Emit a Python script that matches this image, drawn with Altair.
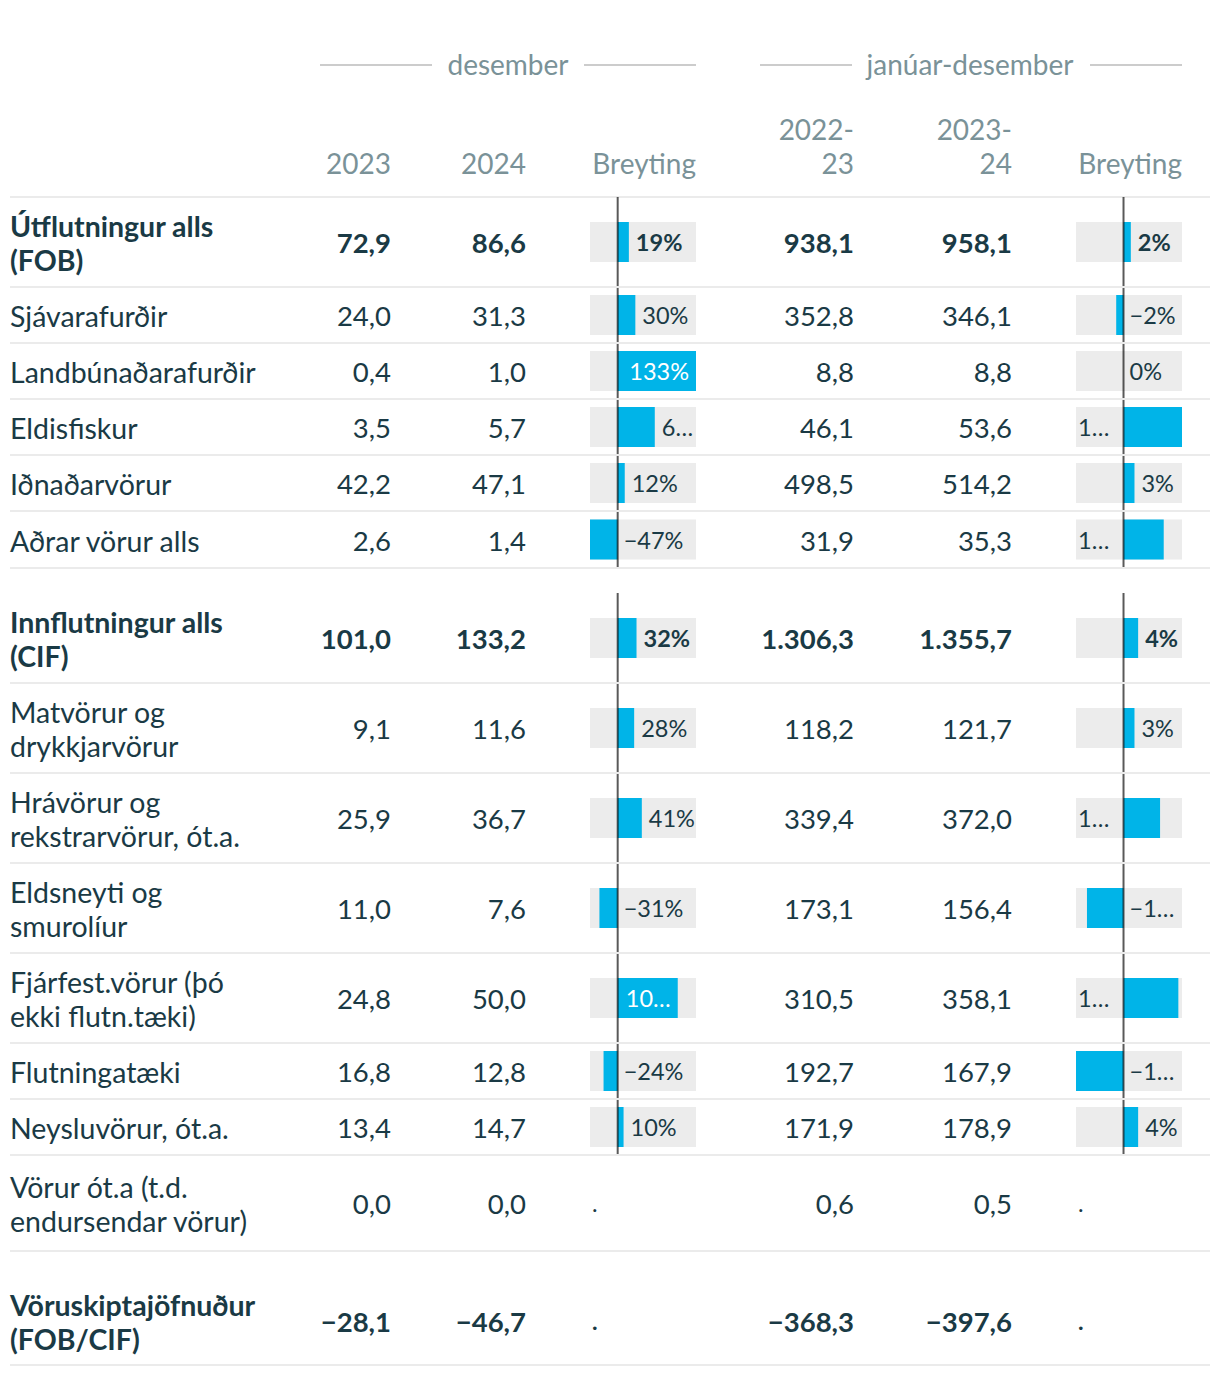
import altair as alt
import pandas as pd

# ---------------- data ----------------
labels = [
    "Útflutningur alls\n(FOB)", "Sjávarafurðir", "Landbúnaðarafurðir", "Eldisfiskur",
    "Iðnaðarvörur", "Aðrar vörur alls", "Innflutningur alls\n(CIF)",
    "Matvörur og\ndrykkjarvörur", "Hrávörur og\nrekstrarvörur, ót.a.",
    "Eldsneyti og\nsmurolíur", "Fjárfest.vörur (þó\nekki flutn.tæki)",
    "Flutningatæki", "Neysluvörur, ót.a.", "Vörur ót.a (t.d.\nendursendar vörur)",
    "Vöruskiptajöfnuður\n(FOB/CIF)",
]
bold = [True, False, False, False, False, False, True, False, False, False,
        False, False, False, False, True]
dec_2023 = [72.9, 24.0, 0.4, 3.5, 42.2, 2.6, 101.0, 9.1, 25.9, 11.0, 24.8, 16.8, 13.4, 0.0, -28.1]
dec_2024 = [86.6, 31.3, 1.0, 5.7, 47.1, 1.4, 133.2, 11.6, 36.7, 7.6, 50.0, 12.8, 14.7, 0.0, -46.7]
yr_2223 = [938.1, 352.8, 8.8, 46.1, 498.5, 31.9, 1306.3, 118.2, 339.4, 173.1, 310.5, 192.7, 171.9, 0.6, -368.3]
yr_2324 = [958.1, 346.1, 8.8, 53.6, 514.2, 35.3, 1355.7, 121.7, 372.0, 156.4, 358.1, 167.9, 178.9, 0.5, -397.6]
chg_dec = [19, 30, 133, 63, 12, -47, 32, 28, 41, -31, 102, -24, 10, None, None]
chg_dec_text = ["19%", "30%", "133%", "6…", "12%", "−47%", "32%", "28%", "41%",
                "−31%", "10…", "−24%", "10%", ".", "."]
chg_dec_place = ["after", "after", "inside", "after", "after", "zero", "after", "after",
                 "after", "zero", "inside", "zero", "after", "start", "start"]
chg_yr = [2, -2, 0, 16, 3, 11, 4, 3, 10, -10, 15, -13, 4, None, None]
chg_yr_text = ["2%", "−2%", "0%", "1…", "3%", "1…", "4%", "3%", "1…", "−1…", "1…",
               "−1…", "4%", ".", "."]
chg_yr_place = ["after", "zero", "zero", "start", "after", "start", "after", "after",
                "start", "zero", "start", "zero", "after", "start", "start"]

# ---------------- layout ----------------
W, H = 1204, 1360
row_heights = [90, 56, 56, 56, 56, 57, 90, 90, 90, 90, 90, 56, 56, 96, 88]
gap_before = [0, 0, 0, 0, 0, 0, 25, 0, 0, 0, 0, 0, 0, 0, 26]
TOP = 189
LH = 34
FONT = "Lato"
FS = 28
FS_LBL = 28.5
FS_NUM = 27.5
FS_BAR = 23.5
DARK = "#1a3a45"
GREY = "#7a9298"
BLUE = "#00b4e8"
BG = "#ececec"


def fmt(v):
    s = f"{abs(v):,.1f}".replace(",", "X").replace(".", ",").replace("X", ".")
    return ("−" if v < 0 else "") + s


tops, bots = [], []
y = TOP
for h, g in zip(row_heights, gap_before):
    y += g
    tops.append(y)
    y += h
    bots.append(y)

df = pd.DataFrame({
    "label": labels,
    "bold": bold,
    "d23": [fmt(v) for v in dec_2023],
    "d24": [fmt(v) for v in dec_2024],
    "y23": [fmt(v) for v in yr_2223],
    "y24": [fmt(v) for v in yr_2324],
    "c1": chg_dec, "t1": chg_dec_text, "p1": chg_dec_place,
    "c2": chg_yr, "t2": chg_yr_text, "p2": chg_yr_place,
    "top": tops, "bot": bots,
})
df["mid"] = (df["top"] + df["bot"]) / 2
df["lmid"] = df["mid"] - df["label"].str.count("\n") * LH / 2
df["btop"] = df["mid"] - 20
df["bbot"] = df["mid"] + 20

vals1 = [v for v in chg_dec if v is not None]
vals2 = [v for v in chg_yr if v is not None]
D1 = [min(vals1), max(vals1)]
D2 = [min(vals2), max(vals2)]
sc1 = alt.Scale(domain=D1, range=[582, 688], nice=False, zero=False)
sc2 = alt.Scale(domain=D2, range=[1068, 1174], nice=False, zero=False)
ysc = alt.Scale(domain=[0, H], range=[0, H], nice=False, zero=False)

base = alt.Chart(df)
one = pd.DataFrame({"k": [0]})
layers = []

Y = lambda f: alt.Y(f"{f}:Q", scale=ysc, axis=None)

# header
def htext(txt, x, yy, align="right"):
    return alt.Chart(one).mark_text(
        text=txt, font=FONT, fontSize=FS, color=GREY, align=align, baseline="middle",
        lineBreak="\n", lineHeight=LH, dy=2,
    ).encode(x=alt.value(x), y=alt.value(yy))

def hrule(x1, x2, yy, color="#cccccc"):
    return alt.Chart(one).mark_rule(color=color, strokeWidth=2).encode(
        x=alt.value(x1), x2=alt.value(x2), y=alt.value(yy))

layers += [
    hrule(312, 424, 57), hrule(576, 688, 57), hrule(752, 844, 57), hrule(1082, 1174, 57),
    htext("desember", 500, 57, "center"), htext("janúar-desember", 962, 57, "center"),
    htext("2023", 383, 156), htext("2024", 518, 156), htext("Breyting", 688, 156),
    htext("2022-\n23", 846, 122), htext("2023-\n24", 1004, 122), htext("Breyting", 1174, 156),
    hrule(2, 1202, TOP, "#ebebeb"),
]

# bar columns
for cf, tf, pf, sc, D in [("c1", "t1", "p1", sc1, D1), ("c2", "t2", "p2", sc2, D2)]:
    valid = base.transform_filter(f"isValid(datum.{cf})").transform_calculate(
        z="0", lo=str(D[0]), hi=str(D[1]))
    layers.append(valid.mark_rect(color=BG).encode(
        x=alt.X("lo:Q", scale=sc, axis=None), x2="hi:Q", y=Y("btop"), y2="bbot:Q"))
    layers.append(valid.mark_rect(color=BLUE).encode(
        x=alt.X(f"{cf}:Q", scale=sc, axis=None), x2="z:Q", y=Y("btop"), y2="bbot:Q"))
    layers.append(valid.mark_rule(color="black", opacity=0.65, strokeWidth=2).encode(
        x=alt.X("z:Q", scale=sc, axis=None), y=Y("top"), y2="bot:Q"))
    # labels
    modes = {
        "after": (cf, 7, "left", DARK),
        "zero": ("z", 6, "left", DARK),
        "inside": (cf, -7, "right", "white"),
        "start": ("lo", 2, "left", DARK),
    }
    for mode, (anchor, dx, align, color) in modes.items():
        for b in (True, False):
            sub = base.transform_filter(
                f"datum.{pf} == '{mode}' && datum.bold == {str(b).lower()}"
            ).transform_calculate(z="0", lo=str(D[0]))
            layers.append(sub.mark_text(
                font=FONT, fontSize=FS_BAR, fontWeight="bold" if b else "normal",
                color=color, align=align, baseline="middle", dx=dx, dy=2,
            ).encode(x=alt.X(f"{anchor}:Q", scale=sc, axis=None), y=Y("mid"),
                     text=f"{tf}:N"))

# separators
layers.append(base.mark_rule(color="#ebebeb", strokeWidth=2).encode(
    x=alt.value(2), x2=alt.value(1202), y=Y("bot")))

# text columns
for b in (True, False):
    sub = base.transform_filter(f"datum.bold == {str(b).lower()}")
    kw = dict(font=FONT, color=DARK, baseline="middle", dy=3,
              fontWeight="bold" if b else "normal", lineBreak="\n", lineHeight=LH)
    layers.append(sub.mark_text(align="left", fontSize=FS_LBL, **kw).encode(
        x=alt.value(2), y=Y("lmid"), text="label:N"))
    for f, xr in [("d23", 383), ("d24", 518), ("y23", 846), ("y24", 1004)]:
        layers.append(sub.mark_text(align="right", fontSize=FS_NUM, **kw).encode(
            x=alt.value(xr), y=Y("mid"), text=f"{f}:N"))

chart = alt.layer(*layers).resolve_scale(x="independent").properties(
    width=W, height=H, padding=0, autosize="none"
).configure_view(strokeWidth=0)

chart.save("out.html", embed_options={"renderer": "svg", "actions": False})
